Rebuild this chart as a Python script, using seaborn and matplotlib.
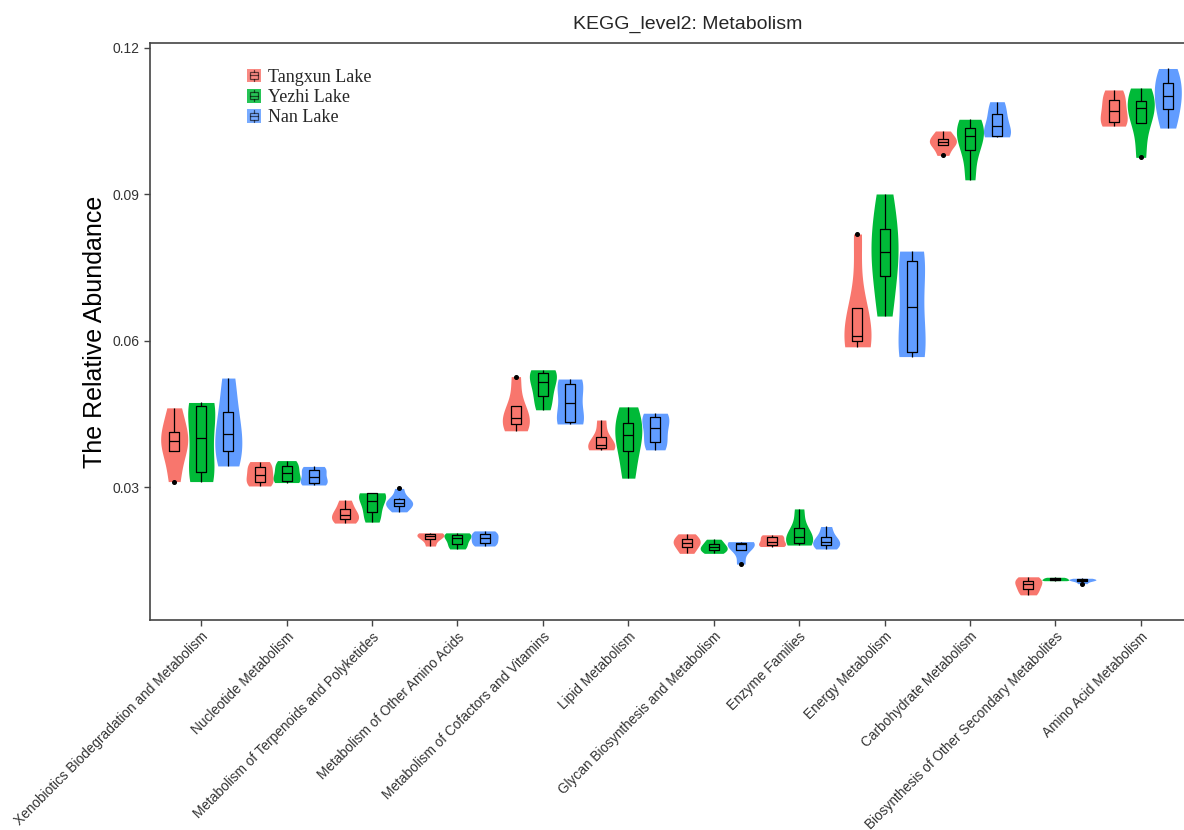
import numpy as np
import pandas as pd
import matplotlib
matplotlib.use("Agg")
import matplotlib.pyplot as plt
import seaborn as sns
from matplotlib.patches import Patch, Rectangle
from matplotlib.lines import Line2D
from matplotlib.legend_handler import HandlerBase

# ---------------- data ----------------
categories = [
    "Xenobiotics Biodegradation and Metabolism",
    "Nucleotide Metabolism",
    "Metabolism of Terpenoids and Polyketides",
    "Metabolism of Other Amino Acids",
    "Metabolism of Cofactors and Vitamins",
    "Lipid Metabolism",
    "Glycan Biosynthesis and Metabolism",
    "Enzyme Families",
    "Energy Metabolism",
    "Carbohydrate Metabolism",
    "Biosynthesis of Other Secondary Metabolites",
    "Amino Acid Metabolism",
]
lakes = ["Tangxun Lake", "Yezhi Lake", "Nan Lake"]
lake_colors = ["#F8766D", "#00BA38", "#619CFF"]

tangxun_values = [
    [0.0312, 0.0375, 0.0395, 0.0414, 0.0463],
    [0.0303, 0.0312, 0.0326, 0.0341, 0.0353],
    [0.0227, 0.0235, 0.0244, 0.0255, 0.0274],
    [0.0180, 0.0194, 0.0200, 0.0205, 0.0207],
    [0.0416, 0.0429, 0.0442, 0.0467, 0.0527],
    [0.0377, 0.0380, 0.0387, 0.0404, 0.0438],
    [0.0165, 0.0179, 0.0187, 0.0194, 0.0205],
    [0.0179, 0.0182, 0.0189, 0.0198, 0.0203],
    [0.0588, 0.0599, 0.0610, 0.0667, 0.0819],
    [0.0980, 0.1001, 0.1008, 0.1014, 0.1030],
    [0.0080, 0.0091, 0.0102, 0.0109, 0.0117],
    [0.1040, 0.1049, 0.1071, 0.1094, 0.1114],
]
yezhi_values = [
    [0.0312, 0.0332, 0.0401, 0.0467, 0.0474],
    [0.0310, 0.0314, 0.0329, 0.0343, 0.0355],
    [0.0229, 0.0250, 0.0273, 0.0288, 0.0289],
    [0.0174, 0.0184, 0.0196, 0.0203, 0.0207],
    [0.0459, 0.0487, 0.0515, 0.0535, 0.0541],
    [0.0319, 0.0375, 0.0407, 0.0431, 0.0465],
    [0.0165, 0.0172, 0.0177, 0.0184, 0.0194],
    [0.0182, 0.0187, 0.0199, 0.0216, 0.0256],
    [0.0651, 0.0733, 0.0783, 0.0829, 0.0901],
    [0.0930, 0.0991, 0.1020, 0.1036, 0.1054],
    [0.0109, 0.0110, 0.0112, 0.0114, 0.0116],
    [0.0976, 0.1047, 0.1077, 0.1092, 0.1118],
]
nan_values = [
    [0.0344, 0.0375, 0.0410, 0.0455, 0.0524],
    [0.0305, 0.0310, 0.0322, 0.0336, 0.0343],
    [0.0250, 0.0261, 0.0266, 0.0271, 0.0278, 0.0298],
    [0.0180, 0.0187, 0.0196, 0.0204, 0.0211],
    [0.0430, 0.0433, 0.0472, 0.0512, 0.0522],
    [0.0377, 0.0394, 0.0421, 0.0444, 0.0452],
    [0.0143, 0.0171, 0.0184, 0.0186, 0.0189],
    [0.0174, 0.0182, 0.0189, 0.0199, 0.0220],
    [0.0568, 0.0578, 0.0669, 0.0764, 0.0784],
    [0.1018, 0.1020, 0.1040, 0.1065, 0.1090],
    [0.0103, 0.0109, 0.0110, 0.0112, 0.0114],
    [0.1036, 0.1075, 0.1102, 0.1128, 0.1158],
]
y_ticks = [0.03, 0.06, 0.09, 0.12]
y_tick_labels = ["0.03", "0.06", "0.09", "0.12"]

rows = []
for lake, vals in zip(lakes, [tangxun_values, yezhi_values, nan_values]):
    for cat, vlist in zip(categories, vals):
        for v in vlist:
            rows.append({"category": cat, "lake": lake, "value": v})
df = pd.DataFrame(rows)

# ---------------- style ----------------
sns.set_style("ticks")
plt.rcParams["font.family"] = ["Liberation Sans", "DejaVu Sans"]

W, H = 1184, 830
fig = plt.figure(figsize=(W / 100, H / 100), dpi=100)
ax_left, ax_right, ax_top, ax_bottom = 150, 1192, 43, 620
ax = fig.add_axes([ax_left / W, (H - ax_bottom) / H,
                   (ax_right - ax_left) / W, (ax_bottom - ax_top) / H])

palette = dict(zip(lakes, lake_colors))
sns.violinplot(data=df, x="category", y="value", hue="lake",
               order=categories, hue_order=lakes, palette=palette,
               density_norm="width", cut=0, inner=None, linewidth=0,
               width=0.95, saturation=1, bw_adjust=0.9, legend=False, ax=ax)

sns.boxplot(data=df, x="category", y="value", hue="lake",
            order=categories, hue_order=lakes,
            palette={l: "black" for l in lakes}, fill=False,
            width=0.95, gap=0.63, linewidth=0.9, whis=1.5,
            showcaps=False,
            flierprops=dict(marker="o", markersize=2.6,
                            markerfacecolor="black", markeredgecolor="black"),
            legend=False, ax=ax)

ax.set_xlim(-0.6, 11.6)
ax.set_ylim(0.00285, 0.12102)
ax.set_yticks(y_ticks)
ax.set_yticklabels(y_tick_labels, fontsize=10, color="#333333")
ax.set_xlabel("")
ax.set_ylabel("The Relative Abundance", fontsize=18, labelpad=4, color="black")
ax.set_xticks(range(len(categories)))
ax.set_xticklabels(categories, rotation=45, ha="right", rotation_mode="anchor",
                   fontsize=9.8, color="#333333")
ax.tick_params(axis="both", direction="out", length=4, width=1, color="#444444")
ax.tick_params(axis="x", pad=3)
for side in ["left", "bottom", "top"]:
    ax.spines[side].set_visible(True)
    ax.spines[side].set_color("#444444")
    ax.spines[side].set_linewidth(1.2)
ax.spines["right"].set_visible(False)
ax.set_title("KEGG_level2: Metabolism", fontsize=14, pad=10,
             x=(688 - ax_left) / (ax_right - ax_left))


class BoxHandler(HandlerBase):
    def create_artists(self, legend, orig_handle, xdescent, ydescent,
                       width, height, fontsize, trans):
        color = orig_handle.get_facecolor()
        x0, y0 = -xdescent, -ydescent
        rect = Rectangle((x0, y0), width, height, facecolor=color,
                         edgecolor="none", alpha=0.85, transform=trans)
        cx = x0 + width / 2
        bw = width * 0.62
        box = Rectangle((cx - bw / 2, y0 + height * 0.25), bw, height * 0.5,
                        fill=False, edgecolor="black", lw=0.9, alpha=0.6,
                        transform=trans)
        med = Line2D([cx - bw / 2, cx + bw / 2], [y0 + height / 2] * 2,
                     color="black", lw=0.9, alpha=0.6, transform=trans)
        w1 = Line2D([cx, cx], [y0 + height * 0.08, y0 + height * 0.25],
                    color="black", lw=0.9, alpha=0.6, transform=trans)
        w2 = Line2D([cx, cx], [y0 + height * 0.75, y0 + height * 0.92],
                    color="black", lw=0.9, alpha=0.6, transform=trans)
        return [rect, box, med, w1, w2]


handles = [Patch(facecolor=c, label=l) for l, c in zip(lakes, lake_colors)]
ax.legend(handles=handles, labels=lakes, loc="upper left",
          bbox_to_anchor=(0.086, 0.968), frameon=False,
          prop={"family": ["Liberation Serif", "DejaVu Serif"], "size": 13},
          handlelength=0.78, handleheight=0.78, handletextpad=0.4,
          labelspacing=0.18, borderaxespad=0.0,
          handler_map={Patch: BoxHandler()})

fig.savefig("out.png", dpi=100)
